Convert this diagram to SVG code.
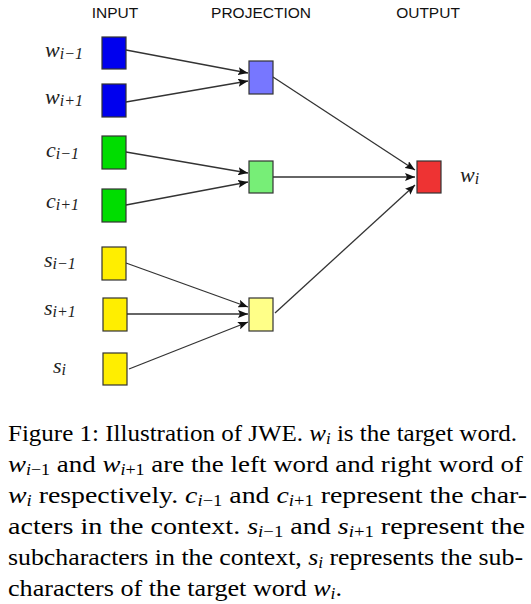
<svg xmlns="http://www.w3.org/2000/svg" width="531" height="604" viewBox="0 0 531 604">
<style>
.hd{font-size:15.5px;fill:#111;text-anchor:middle}
.lb{font-style:italic;font-size:22px;fill:#222}
.sb{font-size:16px}
.box{stroke:#333;stroke-width:1.2}
.cn line{stroke:#333;stroke-width:1.3;marker-end:url(#ah)}
.cap{font-size:24px;fill:#000}
.m{font-style:italic}
.s{font-size:16px}
</style>
<defs>
<marker id="ah" viewBox="0 0 10 8" refX="10" refY="4" markerWidth="10" markerHeight="8" markerUnits="userSpaceOnUse" orient="auto">
<path d="M0,0 L10,4 L0,8 L2,4 z" fill="#111"/>
</marker>
</defs>
<rect width="531" height="604" fill="#fff"/>
<g id="headers" font-family="Liberation Sans, Arial, sans-serif">
<text class="hd" x="115" y="18">INPUT</text>
<text class="hd" x="261" y="18">PROJECTION</text>
<text class="hd" x="428" y="18">OUTPUT</text>
</g>
<g class="cn" id="connectors">
<line x1="126" y1="50" x2="248" y2="73"/>
<line x1="126" y1="102" x2="248" y2="81"/>
<line x1="126" y1="152" x2="248" y2="173"/>
<line x1="126" y1="205" x2="248" y2="182"/>
<line x1="126" y1="263" x2="248" y2="307"/>
<line x1="127" y1="314" x2="248" y2="314"/>
<line x1="129" y1="369" x2="248" y2="322"/>
<line x1="273" y1="77" x2="415" y2="170"/>
<line x1="273" y1="177" x2="415" y2="177"/>
<line x1="275" y1="313" x2="415" y2="185"/>
</g>
<g font-family="Liberation Serif, Times New Roman, serif">
<g id="in_w_prev"><rect class="box" x="102" y="37" width="24" height="32" fill="#0000ee"/><text class="lb" x="45" y="57">w<tspan class="sb" dy="2">i−1</tspan></text></g>
<g id="in_w_next"><rect class="box" x="102" y="84" width="24" height="33" fill="#0000ee"/><text class="lb" x="45" y="104">w<tspan class="sb" dy="2">i+1</tspan></text></g>
<g id="in_c_prev"><rect class="box" x="102" y="136" width="24" height="33" fill="#00dd00"/><text class="lb" x="46" y="157">c<tspan class="sb" dy="2">i−1</tspan></text></g>
<g id="in_c_next"><rect class="box" x="102" y="189" width="24" height="33" fill="#00dd00"/><text class="lb" x="46" y="208">c<tspan class="sb" dy="2">i+1</tspan></text></g>
<g id="in_s_prev"><rect class="box" x="102" y="247" width="24" height="33" fill="#ffee00"/><text class="lb" x="44" y="267">s<tspan class="sb" dy="2">i−1</tspan></text></g>
<g id="in_s_next"><rect class="box" x="103" y="298" width="24" height="33" fill="#ffee00"/><text class="lb" x="44" y="315">s<tspan class="sb" dy="2">i+1</tspan></text></g>
<g id="in_s_i"><rect class="box" x="103" y="353" width="24" height="32" fill="#ffee00"/><text class="lb" x="53" y="373">s<tspan class="sb" dy="2">i</tspan></text></g>
<g id="proj_w"><rect class="box" x="249" y="61" width="24" height="33" fill="#7777ff"/></g>
<g id="proj_c"><rect class="box" x="249" y="161" width="24" height="32" fill="#77ee77"/></g>
<g id="proj_s"><rect class="box" x="249" y="298" width="24" height="33" fill="#ffff88"/></g>
<g id="out_w"><rect class="box" x="417" y="161" width="24" height="32" fill="#ee3333"/><text class="lb" x="460" y="182">w<tspan class="sb" dy="2">i</tspan></text></g>
</g>
<g id="caption" class="cap" font-family="Liberation Serif, Times New Roman, serif">
<text x="8" y="441" textLength="509" lengthAdjust="spacingAndGlyphs">Figure 1: Illustration of JWE. <tspan class="m">w</tspan><tspan class="m s" dy="3">i</tspan><tspan dy="-3"> is the target word.</tspan></text>
<text x="8" y="472" textLength="515" lengthAdjust="spacingAndGlyphs"><tspan class="m">w</tspan><tspan class="m s" dy="3">i</tspan><tspan class="s">−1</tspan><tspan dy="-3"> and </tspan><tspan class="m">w</tspan><tspan class="m s" dy="3">i</tspan><tspan class="s">+1</tspan><tspan dy="-3"> are the left word and right word of</tspan></text>
<text x="8" y="503" textLength="519" lengthAdjust="spacingAndGlyphs"><tspan class="m">w</tspan><tspan class="m s" dy="3">i</tspan><tspan dy="-3"> respectively.  </tspan><tspan class="m">c</tspan><tspan class="m s" dy="3">i</tspan><tspan class="s">−1</tspan><tspan dy="-3"> and </tspan><tspan class="m">c</tspan><tspan class="m s" dy="3">i</tspan><tspan class="s">+1</tspan><tspan dy="-3"> represent the char-</tspan></text>
<text x="8" y="534" textLength="517" lengthAdjust="spacingAndGlyphs">acters in the context.  <tspan class="m">s</tspan><tspan class="m s" dy="3">i</tspan><tspan class="s">−1</tspan><tspan dy="-3"> and </tspan><tspan class="m">s</tspan><tspan class="m s" dy="3">i</tspan><tspan class="s">+1</tspan><tspan dy="-3"> represent the</tspan></text>
<text x="8" y="565" textLength="515" lengthAdjust="spacingAndGlyphs">subcharacters in the context, <tspan class="m">s</tspan><tspan class="m s" dy="3">i</tspan><tspan dy="-3"> represents the sub-</tspan></text>
<text x="8" y="596" textLength="334" lengthAdjust="spacingAndGlyphs">characters of the target word <tspan class="m">w</tspan><tspan class="m s" dy="3">i</tspan><tspan dy="-3">.</tspan></text>
</g>
</svg>
